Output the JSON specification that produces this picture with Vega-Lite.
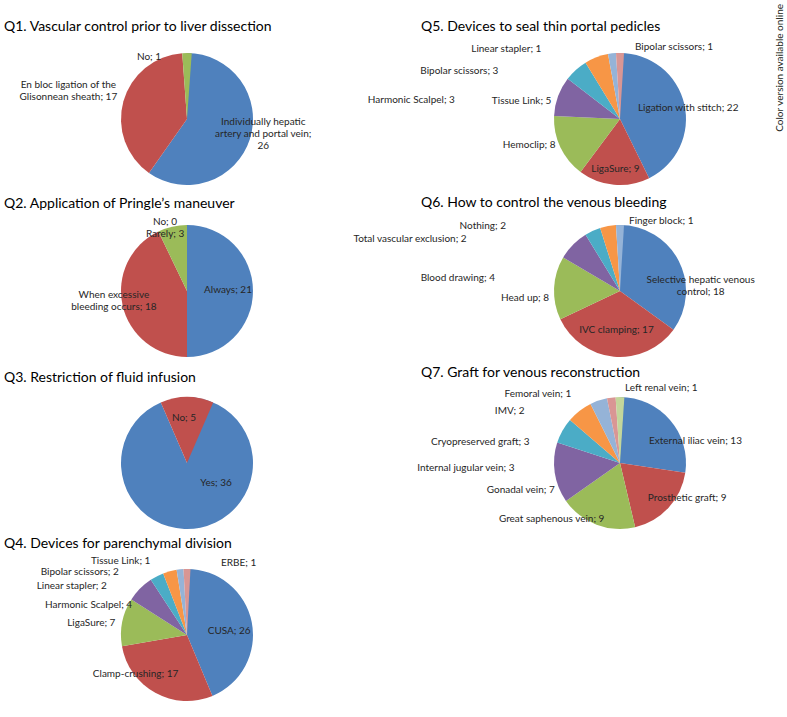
{
  "$schema": "https://vega.github.io/schema/vega-lite/v6.json",
  "background": "white",
  "padding": {"left": 4, "top": 4, "right": 0, "bottom": 0},
  "bounds": "flush",
  "align": "each",
  "columns": 2,
  "spacing": {"row": 22, "column": 100},
  "title": {"text": "Color version available online", "orient": "right", "anchor": "start", "frame": "bounds", "angle": 270, "align": "right", "baseline": "alphabetic", "offset": 15, "dy": -12, "dx": 16, "fontSize": 10, "font": "Lato", "color": "#231f20"},
  "config": {
    "view": {"stroke": null},
    "title": {"anchor": "start", "frame": "group", "font": "Lato", "fontSize": 14, "fontWeight": "normal", "color": "#000000", "baseline": "alphabetic"},
    "text": {"font": "Lato", "fontSize": 10, "baseline": "middle", "lineBreak": "|", "lineHeight": 12, "color": "#262626"},
    "arc": {"outerRadius": 66}
  },
  "concat": [
    {
      "title": {"text": "Q1. Vascular control prior to liver dissection", "offset": 10},
      "width": 366, "height": 150,
      "data": {"values": [
        {"a": "Individually hepatic artery and portal vein", "n": 26},
        {"a": "En bloc ligation of the Glisonnean sheath", "n": 17},
        {"a": "No", "n": 1}
      ]},
      "transform": [
        {"window": [{"op": "row_number", "as": "i"}]},
        {"stack": "n", "groupby": [], "sort": [{"field": "i", "order": "ascending"}], "as": ["t0", "t1"]},
        {"calculate": "(datum.t0 + datum.t1) / 2", "as": "tm"},
        {"calculate": "replace(replace(replace(datum.a + '; ' + datum.n, 'hepatic artery', 'hepatic|artery'), 'vein; ', 'vein;|'), 'the Glisonnean', 'the|Glisonnean')", "as": "label"}
      ],
      "encoding": {
        "theta": {"field": "tm", "type": "quantitative", "scale": {"zero": true, "nice": false}},
        "text": {"field": "label", "type": "nominal"}
      },
      "layer": [
        {"mark": {"type": "arc"}, "encoding": {
          "theta": {"field": "t0", "type": "quantitative", "scale": {"zero": true, "nice": false}},
          "theta2": {"field": "t1"},
          "text": null,
          "color": {"field": "i", "type": "ordinal", "legend": null, "scale": {"domain": [1,2,3,4,5,6,7,8,9], "range": ["#4F81BD","#C0504D","#9BBB59","#8064A2","#4BACC6","#F79646","#95B3D7","#D99694","#C3D69B"]}}
        }},
        {"transform": [{"filter": "datum.i == 1"}], "mark": {"type": "text", "radius": 80, "dy": -21}},
        {"transform": [{"filter": "datum.i == 2"}], "mark": {"type": "text", "radius": 120, "dx": -3, "dy": -2}},
        {"transform": [{"filter": "datum.i == 3"}], "mark": {"type": "text", "radius": 66, "dx": -38, "dy": 4}}
      ]
    },
    {
      "title": {"text": "Q5. Devices to seal thin portal pedicles", "offset": 8, "dx": -49},
      "width": 300, "height": 150,
      "data": {"values": [
        {"a": "Ligation with stitch", "n": 22},
        {"a": "LigaSure", "n": 9},
        {"a": "Hemoclip", "n": 8},
        {"a": "Tissue Link", "n": 5},
        {"a": "Harmonic Scalpel", "n": 3},
        {"a": "Bipolar scissors", "n": 3},
        {"a": "Linear stapler", "n": 1},
        {"a": "Bipolar scissors", "n": 1}
      ]},
      "transform": [
        {"window": [{"op": "row_number", "as": "i"}]},
        {"stack": "n", "groupby": [], "sort": [{"field": "i", "order": "ascending"}], "as": ["t0", "t1"]},
        {"calculate": "(datum.t0 + datum.t1) / 2", "as": "tm"},
        {"calculate": "datum.a + '; ' + datum.n", "as": "label"}
      ],
      "encoding": {
        "theta": {"field": "tm", "type": "quantitative", "scale": {"zero": true, "nice": false}},
        "text": {"field": "label", "type": "nominal"}
      },
      "layer": [
        {"mark": {"type": "arc"}, "encoding": {
          "theta": {"field": "t0", "type": "quantitative", "scale": {"zero": true, "nice": false}},
          "theta2": {"field": "t1"},
          "text": null,
          "color": {"field": "i", "type": "ordinal", "legend": null, "scale": {"domain": [1,2,3,4,5,6,7,8,9], "range": ["#4F81BD","#C0504D","#9BBB59","#8064A2","#4BACC6","#F79646","#95B3D7","#D99694","#C3D69B"]}}
        }},
        {"transform": [{"filter": "datum.i == 1"}], "mark": {"type": "text", "radius": 70, "dy": 5}},
        {"transform": [{"filter": "datum.i == 2"}], "mark": {"type": "text", "radius": 50}},
        {"transform": [{"filter": "datum.i == 3"}], "mark": {"type": "text", "radius": 68, "align": "right", "dx": -3, "dy": -3}},
        {"transform": [{"filter": "datum.i == 4"}], "mark": {"type": "text", "radius": 72, "align": "right", "dx": -1, "dy": 7}},
        {"transform": [{"filter": "datum.i == 5"}], "mark": {"type": "text", "radius": 66, "align": "right", "dx": -121, "dy": 30}},
        {"transform": [{"filter": "datum.i == 6"}], "mark": {"type": "text", "radius": 66, "align": "right", "dx": -98, "dy": 14}},
        {"transform": [{"filter": "datum.i == 7"}], "mark": {"type": "text", "radius": 71, "align": "right", "dx": -70}},
        {"transform": [{"filter": "datum.i == 8"}], "mark": {"type": "text", "radius": 72, "align": "left", "dx": 15}}
      ]
    },
    {
      "title": {"text": "Q2. Application of Pringle’s maneuver", "offset": 5},
      "width": 366, "height": 150,
      "data": {"values": [
        {"a": "Always", "n": 21},
        {"a": "When excessive bleeding occurs", "n": 18},
        {"a": "Rarely", "n": 3},
        {"a": "No", "n": 0}
      ]},
      "transform": [
        {"window": [{"op": "row_number", "as": "i"}]},
        {"stack": "n", "groupby": [], "sort": [{"field": "i", "order": "ascending"}], "as": ["t0", "t1"]},
        {"calculate": "(datum.t0 + datum.t1) / 2", "as": "tm"},
        {"calculate": "replace(datum.a + '; ' + datum.n, 'excessive ', 'excessive|')", "as": "label"}
      ],
      "encoding": {
        "theta": {"field": "tm", "type": "quantitative", "scale": {"zero": true, "nice": false}},
        "text": {"field": "label", "type": "nominal"}
      },
      "layer": [
        {"mark": {"type": "arc"}, "encoding": {
          "theta": {"field": "t0", "type": "quantitative", "scale": {"zero": true, "nice": false}},
          "theta2": {"field": "t1"},
          "text": null,
          "color": {"field": "i", "type": "ordinal", "legend": null, "scale": {"domain": [1,2,3,4,5,6,7,8,9], "range": ["#4F81BD","#C0504D","#9BBB59","#8064A2","#4BACC6","#F79646","#95B3D7","#D99694","#C3D69B"]}}
        }},
        {"transform": [{"filter": "datum.i == 1"}], "mark": {"type": "text", "radius": 41, "dy": -1}},
        {"transform": [{"filter": "datum.i == 2"}], "mark": {"type": "text", "radius": 75, "dy": -13}},
        {"transform": [{"filter": "datum.i == 3"}], "mark": {"type": "text", "radius": 58, "dx": -9}},
        {"transform": [{"filter": "datum.i == 4"}], "mark": {"type": "text", "radius": 69, "dx": -22}}
      ]
    },
    {
      "title": {"text": "Q6. How to control the venous bleeding", "offset": 6, "dx": -49},
      "width": 300, "height": 150,
      "data": {"values": [
        {"a": "Selective hepatic venous control", "n": 18},
        {"a": "IVC clamping", "n": 17},
        {"a": "Head up", "n": 8},
        {"a": "Blood drawing", "n": 4},
        {"a": "Total vascular exclusion", "n": 2},
        {"a": "Nothing", "n": 2},
        {"a": "Finger block", "n": 1}
      ]},
      "transform": [
        {"window": [{"op": "row_number", "as": "i"}]},
        {"stack": "n", "groupby": [], "sort": [{"field": "i", "order": "ascending"}], "as": ["t0", "t1"]},
        {"calculate": "(datum.t0 + datum.t1) / 2", "as": "tm"},
        {"calculate": "replace(datum.a + '; ' + datum.n, 'venous ', 'venous|')", "as": "label"}
      ],
      "encoding": {
        "theta": {"field": "tm", "type": "quantitative", "scale": {"zero": true, "nice": false}},
        "text": {"field": "label", "type": "nominal"}
      },
      "layer": [
        {"mark": {"type": "arc"}, "encoding": {
          "theta": {"field": "t0", "type": "quantitative", "scale": {"zero": true, "nice": false}},
          "theta2": {"field": "t1"},
          "text": null,
          "color": {"field": "i", "type": "ordinal", "legend": null, "scale": {"domain": [1,2,3,4,5,6,7,8,9], "range": ["#4F81BD","#C0504D","#9BBB59","#8064A2","#4BACC6","#F79646","#95B3D7","#D99694","#C3D69B"]}}
        }},
        {"transform": [{"filter": "datum.i == 1"}], "mark": {"type": "text", "radius": 85, "dx": 5, "dy": 28}},
        {"transform": [{"filter": "datum.i == 2"}], "mark": {"type": "text", "radius": 39}},
        {"transform": [{"filter": "datum.i == 3"}], "mark": {"type": "text", "radius": 71, "align": "right", "dy": 10}},
        {"transform": [{"filter": "datum.i == 4"}], "mark": {"type": "text", "radius": 66, "align": "right", "dx": -78, "dy": 33}},
        {"transform": [{"filter": "datum.i == 5"}], "mark": {"type": "text", "radius": 66, "align": "right", "dx": -126, "dy": 8}},
        {"transform": [{"filter": "datum.i == 6"}], "mark": {"type": "text", "radius": 66, "align": "right", "dx": -102}},
        {"transform": [{"filter": "datum.i == 7"}], "mark": {"type": "text", "radius": 70, "align": "left", "dx": 9}}
      ]
    },
    {
      "title": {"text": "Q3. Restriction of fluid infusion", "offset": 3},
      "width": 366, "height": 150,
      "data": {"values": [
        {"a": "Yes", "n": 36},
        {"a": "No", "n": 5}
      ]},
      "transform": [
        {"window": [{"op": "row_number", "as": "i"}]},
        {"stack": "n", "groupby": [], "sort": [{"field": "i", "order": "ascending"}], "as": ["t0", "t1"]},
        {"calculate": "(datum.t0 + datum.t1) / 2", "as": "tm"},
        {"calculate": "datum.a + '; ' + datum.n", "as": "label"}
      ],
      "encoding": {
        "theta": {"field": "tm", "type": "quantitative", "scale": {"zero": true, "nice": false}},
        "text": {"field": "label", "type": "nominal"}
      },
      "layer": [
        {"mark": {"type": "arc"}, "encoding": {
          "theta": {"field": "t0", "type": "quantitative", "scale": {"zero": true, "nice": false}},
          "theta2": {"field": "t1"},
          "text": null,
          "color": {"field": "i", "type": "ordinal", "legend": null, "scale": {"domain": [1,2,3,4,5,6,7,8,9], "range": ["#4F81BD","#C0504D","#9BBB59","#8064A2","#4BACC6","#F79646","#95B3D7","#D99694","#C3D69B"]}}
        }},
        {"transform": [{"filter": "datum.i == 1"}], "mark": {"type": "text", "radius": 20, "dx": 25}},
        {"transform": [{"filter": "datum.i == 2"}], "mark": {"type": "text", "radius": 45, "dx": -3}}
      ]
    },
    {
      "title": {"text": "Q7. Graft for venous reconstruction", "offset": 3, "dx": -49},
      "width": 300, "height": 150,
      "data": {"values": [
        {"a": "External iliac vein", "n": 13},
        {"a": "Prosthetic graft", "n": 9},
        {"a": "Great saphenous vein", "n": 9},
        {"a": "Gonadal vein", "n": 7},
        {"a": "Internal jugular vein", "n": 3},
        {"a": "Cryopreserved graft", "n": 3},
        {"a": "IMV", "n": 2},
        {"a": "Femoral vein", "n": 1},
        {"a": "Left renal vein", "n": 1}
      ]},
      "transform": [
        {"window": [{"op": "row_number", "as": "i"}]},
        {"stack": "n", "groupby": [], "sort": [{"field": "i", "order": "ascending"}], "as": ["t0", "t1"]},
        {"calculate": "(datum.t0 + datum.t1) / 2", "as": "tm"},
        {"calculate": "datum.a + '; ' + datum.n", "as": "label"}
      ],
      "encoding": {
        "theta": {"field": "tm", "type": "quantitative", "scale": {"zero": true, "nice": false}},
        "text": {"field": "label", "type": "nominal"}
      },
      "layer": [
        {"mark": {"type": "arc"}, "encoding": {
          "theta": {"field": "t0", "type": "quantitative", "scale": {"zero": true, "nice": false}},
          "theta2": {"field": "t1"},
          "text": null,
          "color": {"field": "i", "type": "ordinal", "legend": null, "scale": {"domain": [1,2,3,4,5,6,7,8,9], "range": ["#4F81BD","#C0504D","#9BBB59","#8064A2","#4BACC6","#F79646","#95B3D7","#D99694","#C3D69B"]}}
        }},
        {"transform": [{"filter": "datum.i == 1"}], "mark": {"type": "text", "radius": 60, "dx": 30, "dy": 17}},
        {"transform": [{"filter": "datum.i == 2"}], "mark": {"type": "text", "radius": 60, "dx": 23, "dy": -6}},
        {"transform": [{"filter": "datum.i == 3"}], "mark": {"type": "text", "radius": 60, "dx": -47}},
        {"transform": [{"filter": "datum.i == 4"}], "mark": {"type": "text", "radius": 66, "align": "right", "dy": 17}},
        {"transform": [{"filter": "datum.i == 5"}], "mark": {"type": "text", "radius": 66, "align": "right", "dx": -48, "dy": 37}},
        {"transform": [{"filter": "datum.i == 6"}], "mark": {"type": "text", "radius": 66, "align": "right", "dx": -50, "dy": 31}},
        {"transform": [{"filter": "datum.i == 7"}], "mark": {"type": "text", "radius": 66, "align": "right", "dx": -74, "dy": 10}},
        {"transform": [{"filter": "datum.i == 8"}], "mark": {"type": "text", "radius": 66, "align": "right", "dx": -40, "dy": -4}},
        {"transform": [{"filter": "datum.i == 9"}], "mark": {"type": "text", "radius": 72, "align": "left", "dx": 5, "dy": -3}}
      ]
    },
    {
      "title": {"text": "Q4. Devices for parenchymal division", "offset": 5},
      "width": 366, "height": 150,
      "data": {"values": [
        {"a": "CUSA", "n": 26},
        {"a": "Clamp-crushing", "n": 17},
        {"a": "LigaSure", "n": 7},
        {"a": "Harmonic Scalpel", "n": 4},
        {"a": "Linear stapler", "n": 2},
        {"a": "Bipolar scissors", "n": 2},
        {"a": "Tissue Link", "n": 1},
        {"a": "ERBE", "n": 1}
      ]},
      "transform": [
        {"window": [{"op": "row_number", "as": "i"}]},
        {"stack": "n", "groupby": [], "sort": [{"field": "i", "order": "ascending"}], "as": ["t0", "t1"]},
        {"calculate": "(datum.t0 + datum.t1) / 2", "as": "tm"},
        {"calculate": "datum.a + '; ' + datum.n", "as": "label"}
      ],
      "encoding": {
        "theta": {"field": "tm", "type": "quantitative", "scale": {"zero": true, "nice": false}},
        "text": {"field": "label", "type": "nominal"}
      },
      "layer": [
        {"mark": {"type": "arc"}, "encoding": {
          "theta": {"field": "t0", "type": "quantitative", "scale": {"zero": true, "nice": false}},
          "theta2": {"field": "t1"},
          "text": null,
          "color": {"field": "i", "type": "ordinal", "legend": null, "scale": {"domain": [1,2,3,4,5,6,7,8,9], "range": ["#4F81BD","#C0504D","#9BBB59","#8064A2","#4BACC6","#F79646","#95B3D7","#D99694","#C3D69B"]}}
        }},
        {"transform": [{"filter": "datum.i == 1"}], "mark": {"type": "text", "radius": 43, "dy": 4}},
        {"transform": [{"filter": "datum.i == 2"}], "mark": {"type": "text", "radius": 55, "dx": -25, "dy": -9}},
        {"transform": [{"filter": "datum.i == 3"}], "mark": {"type": "text", "radius": 73, "align": "right", "dy": 2}},
        {"transform": [{"filter": "datum.i == 4"}], "mark": {"type": "text", "radius": 42, "align": "right", "dx": -25}},
        {"transform": [{"filter": "datum.i == 5"}], "mark": {"type": "text", "radius": 55, "align": "right", "dx": -55}},
        {"transform": [{"filter": "datum.i == 6"}], "mark": {"type": "text", "radius": 66, "align": "right", "dx": -51, "dy": 1}},
        {"transform": [{"filter": "datum.i == 7"}], "mark": {"type": "text", "radius": 72, "align": "right", "dx": -29, "dy": -2}},
        {"transform": [{"filter": "datum.i == 8"}], "mark": {"type": "text", "radius": 72, "align": "left", "dx": 34}}
      ]
    }
  ]
}
